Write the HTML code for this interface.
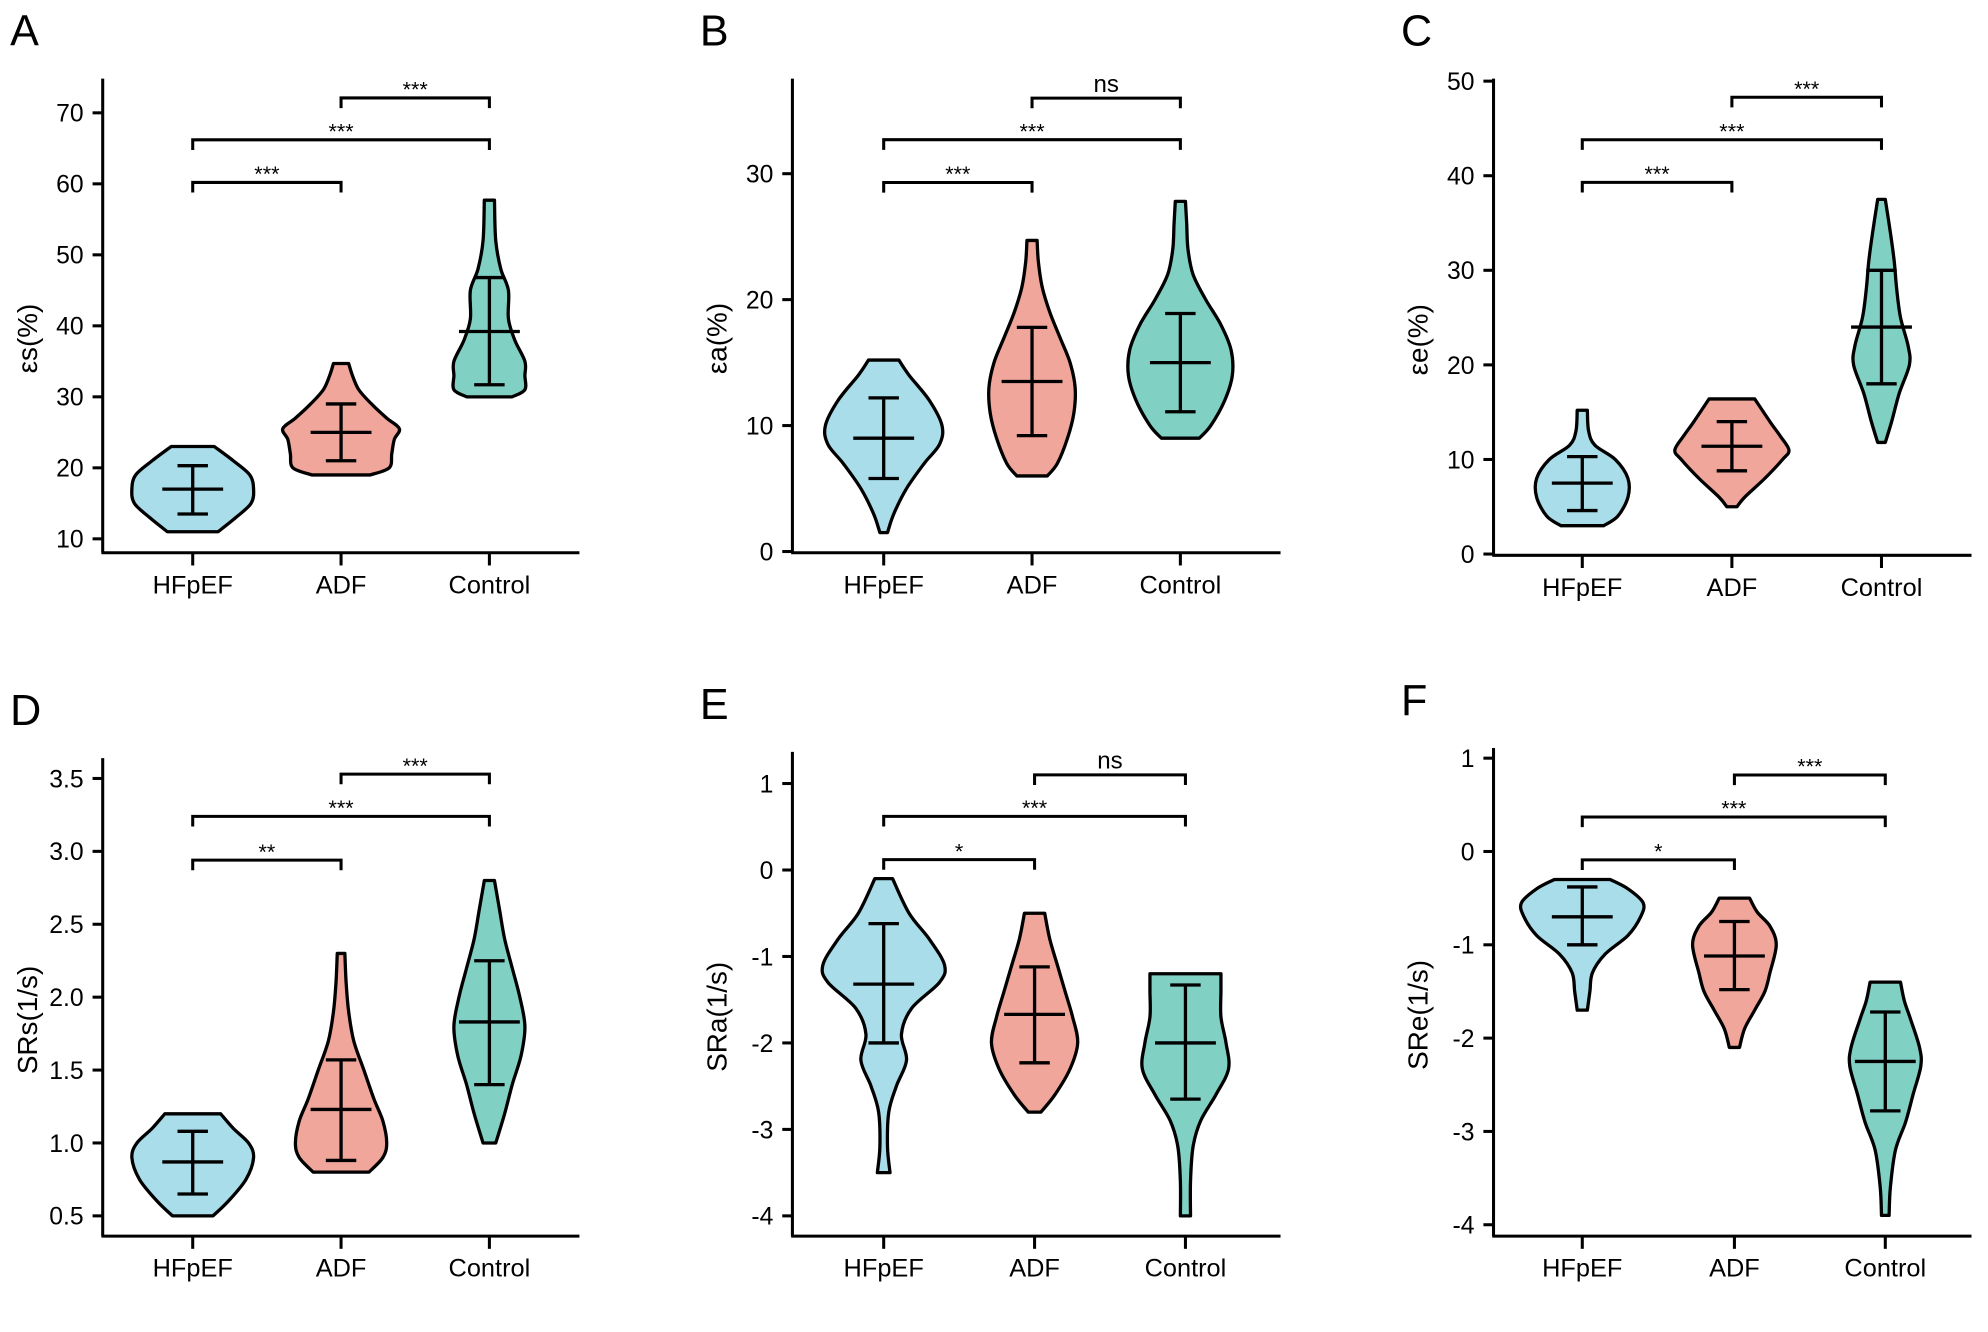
<!DOCTYPE html>
<html><head><meta charset="utf-8"><style>
html,body{margin:0;padding:0;background:#fff;}
svg{display:block;font-family:"Liberation Sans",Arial,sans-serif;}
</style></head><body>
<svg id="fig" width="1988" height="1332" viewBox="0 0 1568 1050.6" xmlns="http://www.w3.org/2000/svg"></svg>
<script>
const categories = ["HFpEF","ADF","Control"];
const colors = ["#a8dde9","#f0a69b","#80d0c4"];
// violin profiles: [value, halfwidth-scale]
const profA = [
 [[11,20],[13,34],[15,46],[17,48],[19,45],[21,32],[23,17]],
 [[19,23],[20,38],[22,40],[24,42],[25.5,46],[27,36],[29,24],[31,14],[33,9],[34.7,6]],
 [[30,18],[31,28],[33,28],[35,28],[38,20],[41,15],[45,15],[48,9],[52,5],[57.7,4]]];
const statsA = [[17,13.5,20.3],[25,21,29],[39.2,31.7,46.8]];
const profB = [
 [[1.5,3],[3,8],[5,18],[7,32],[8.5,44],[10,46],[12,36],[14,20],[15.2,12]],
 [[6,12],[7,20],[9,28],[11,33],[13,34],[15,30],[17,22],[19,14],[21,8],[23,5],[24.7,4]],
 [[9,15],[10,24],[12,35],[14,41],[16,40],[18,32],[20,20],[22,10],[24,6],[26,5],[27.8,4]]];
const statsB = [[9,5.8,12.2],[13.5,9.2,17.8],[15,11.1,18.9]];
const profC = [
 [[3,17],[4,28],[6,36],[8,36],[10,26],[11.5,10],[13,5],[15.2,4]],
 [[5,4],[6,10],[8,26],[10,40],[11,45],[12.5,38],[14,30],[16.4,18]],
 [[11.8,3],[14,8],[17,14],[20,22],[22,21],[25,15],[28,12],[31,10],[34,7],[37.5,3]]];
const statsC = [[7.5,4.6,10.3],[11.4,8.8,14],[24,18,30]];
const profD = [
 [[0.5,16],[0.6,28],[0.75,42],[0.9,48],[1.0,44],[1.1,32],[1.2,22]],
 [[0.8,22],[0.9,33],[1.0,36],[1.15,33],[1.3,26],[1.5,18],[1.7,10],[1.9,6],[2.1,4],[2.3,3]],
 [[1,5],[1.2,12],[1.4,18],[1.6,25],[1.8,28],[2.0,24],[2.2,18],[2.4,12],[2.6,8],[2.8,4]]];
const statsD = [[0.87,0.65,1.08],[1.23,0.88,1.57],[1.83,1.4,2.25]];
const profE = [
 [[-3.5,5],[-3.2,3],[-2.8,4],[-2.5,10],[-2.2,18],[-1.9,14],[-1.6,22],[-1.3,44],[-1.1,48],[-0.8,36],[-0.5,20],[-0.1,7]],
 [[-2.8,5],[-2.6,16],[-2.3,28],[-2.0,34],[-1.7,30],[-1.4,24],[-1.1,18],[-0.8,12],[-0.5,8]],
 [[-4,4],[-3.6,4],[-3.2,6],[-2.9,12],[-2.6,24],[-2.3,34],[-2.0,32],[-1.7,28],[-1.4,28],[-1.2,28]]];
const statsE = [[-1.32,-2.0,-0.62],[-1.67,-2.23,-1.12],[-2.0,-2.65,-1.33]];
const profF = [
 [[-1.7,4],[-1.5,6],[-1.3,8],[-1.1,18],[-0.9,36],[-0.7,46],[-0.55,48],[-0.4,36],[-0.3,22]],
 [[-2.1,4],[-1.9,8],[-1.7,16],[-1.5,24],[-1.3,28],[-1.0,33],[-0.8,28],[-0.65,18],[-0.5,12]],
 [[-3.9,3],[-3.6,4],[-3.2,8],[-2.9,16],[-2.6,22],[-2.3,28],[-2.1,27],[-1.8,20],[-1.6,15],[-1.4,12]]];
const statsF = [[-0.7,-1.0,-0.38],[-1.12,-1.48,-0.75],[-2.25,-2.78,-1.72]];
const ticksA=[10,20,30,40,50,60,70], ticksB=[0,10,20,30], ticksC=[0,10,20,30,40,50];
const ticksD=[0.5,1.0,1.5,2.0,2.5,3.0,3.5], ticksE=[-4,-3,-2,-1,0,1], ticksF=[-4,-3,-2,-1,0,1];
const labelsD=["0.5","1.0","1.5","2.0","2.5","3.0","3.5"];
// brackets: [from, to, value, label]
const brA=[[0,1,60.2,"***"],[0,2,66.2,"***"],[1,2,72.1,"***"]];
const brB=[[0,1,29.3,"***"],[0,2,32.7,"***"],[1,2,36,"ns"]];
const brC=[[0,1,39.3,"***"],[0,2,43.8,"***"],[1,2,48.3,"***"]];
const brD=[[0,1,2.94,"**"],[0,2,3.24,"***"],[1,2,3.53,"***"]];
const brE=[[0,1,0.12,"*"],[0,2,0.62,"***"],[1,2,1.1,"ns"]];
const brF=[[0,1,-0.09,"*"],[0,2,0.37,"***"],[1,2,0.82,"***"]];

const NS="http://www.w3.org/2000/svg";
const svg=document.getElementById('fig');
function mk(t,a,p){const e=document.createElementNS(NS,t);for(const k in a)e.setAttribute(k,a[k]);(p||svg).appendChild(e);return e;}
function crPath(pts){let d="";for(let i=0;i<pts.length-1;i++){const p0=pts[Math.max(0,i-1)],p1=pts[i],p2=pts[i+1],p3=pts[Math.min(pts.length-1,i+2)];
 const c1=[p1[0]+(p2[0]-p0[0])/6,p1[1]+(p2[1]-p0[1])/6],c2=[p2[0]-(p3[0]-p1[0])/6,p2[1]-(p3[1]-p1[1])/6];
 d+=` C${c1[0]},${c1[1]} ${c2[0]},${c2[1]} ${p2[0]},${p2[1]}`;}return d;}

const panels=[
 {L:"A",ax:81,top:62,bot:436,right:457,cx:[152,269,386],v0:10,y0:425,v1:70,y1:89,ticks:ticksA,tl:null,prof:profA,st:statsA,br:brA,yl:"εs(%)"},
 {L:"B",ax:625,top:62,bot:436,right:1010,cx:[697,814,931],v0:0,y0:435,v1:30,y1:137,ticks:ticksB,tl:null,prof:profB,st:statsB,br:brB,yl:"εa(%)"},
 {L:"C",ax:1178,top:62,bot:438,right:1555,cx:[1248,1366,1484],v0:0,y0:437,v1:50,y1:64,ticks:ticksC,tl:null,prof:profC,st:statsC,br:brC,yl:"εe(%)"},
 {L:"D",ax:81,top:598,bot:975,right:457,cx:[152,269,386],v0:0.5,y0:959,v1:3.5,y1:614,ticks:ticksD,tl:labelsD,prof:profD,st:statsD,br:brD,yl:"SRs(1/s)"},
 {L:"E",ax:625,top:593,bot:975,right:1010,cx:[697,816,935],v0:-4,y0:959,v1:1,y1:618,ticks:ticksE,tl:null,prof:profE,st:statsE,br:brE,yl:"SRa(1/s)"},
 {L:"F",ax:1178,top:590,bot:975,right:1555,cx:[1248,1368,1487],v0:-4,y0:966,v1:1,y1:598,ticks:ticksF,tl:null,prof:profF,st:statsF,br:brF,yl:"SRe(1/s)"}];

panels.forEach(P=>{
 const g=mk('g',{});
 
 
 const y=v=>P.y0+(v-P.v0)*(P.y1-P.y0)/(P.v1-P.v0);
 const lt=mk('text',{x:P.ax-73,y:P.top-26,'font-size':34},g);lt.textContent=P.L;
 
 const yaxis=mk('line',{x1:P.ax,y1:P.top,x2:P.ax,y2:P.bot,stroke:'#000','stroke-width':2.4},g);
 
 const xaxis=mk('line',{x1:P.ax-1,y1:P.bot,x2:P.right,y2:P.bot,stroke:'#000','stroke-width':2.4},g);
 
 P.ticks.forEach((t,i)=>{const yy=y(t);
  mk('line',{x1:P.ax-8,y1:yy,x2:P.ax,y2:yy,stroke:'#000','stroke-width':2.4},g);
  const tx=mk('text',{x:P.ax-15,y:yy+7,'font-size':19.5,'text-anchor':'end'},g);
  tx.textContent=P.tl?P.tl[i]:String(t);
  });
 const yl=mk('text',{x:0,y:0,'font-size':22,'text-anchor':'middle',transform:`translate(${P.ax-52},${(P.top+P.bot)/2+18}) rotate(-90)`},g);
 yl.textContent=P.yl;
 categories.forEach((c,i)=>{const x=P.cx[i];
  mk('line',{x1:x,y1:P.bot,x2:x,y2:P.bot+10,stroke:'#000','stroke-width':2.4},g);
  const tx=mk('text',{x:x,y:P.bot+32,'font-size':20,'text-anchor':'middle'},g);tx.textContent=c;
  
  const pr=P.prof[i];
  const right=pr.map(p=>[x+p[1],y(p[0])]);
  const left=pr.slice().reverse().map(p=>[x-p[1],y(p[0])]);
  let d=`M${x-pr[0][1]},${y(pr[0][0])} L${right[0][0]},${right[0][1]}`+crPath(right)+` L${left[0][0]},${left[0][1]}`+crPath(left)+'Z';
  const vp=mk('path',{d:d,fill:colors[i],stroke:'#000','stroke-width':2.6,'stroke-linejoin':'round'},g);
  
  const s=P.st[i];
  const eb=mk('path',{d:`M${x},${y(s[1])}V${y(s[2])}M${x-12},${y(s[1])}H${x+12}M${x-12},${y(s[2])}H${x+12}M${x-24},${y(s[0])}H${x+24}`,stroke:'#000','stroke-width':2.6,fill:'none'},g);
  
 });
 P.br.forEach(b=>{const x1=P.cx[b[0]],x2=P.cx[b[1]],yy=y(b[2]);
  const bp=mk('path',{d:`M${x1},${yy+8}V${yy}H${x2}V${yy+8}`,stroke:'#000','stroke-width':2.4,fill:'none'},g);
  
  const tx=mk('text',{x:(x1+x2)/2,y:yy-(b[3]==='ns'?5:1),'font-size':b[3]==='ns'?19:17,'text-anchor':'middle'},g);tx.textContent=b[3];
  });
});
</script>
</body></html>
